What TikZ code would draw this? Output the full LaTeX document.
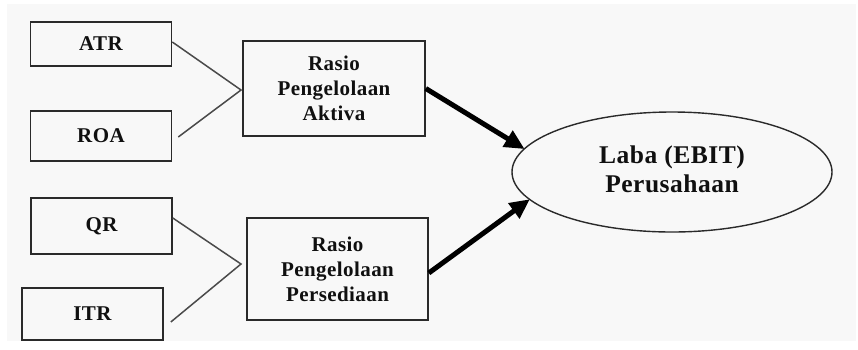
\documentclass[tikz,border=0pt]{standalone}
\usepackage{fontspec}
\setmainfont{Liberation Serif}
\usetikzlibrary{arrows.meta,calc,shapes.geometric}
\definecolor{bgc}{HTML}{F8F8F8}
\definecolor{bordc}{HTML}{2A2A2A}
\definecolor{linec}{HTML}{4A4A4A}
\definecolor{txtc}{HTML}{101010}
\begin{document}
\begin{tikzpicture}[x=1pt,y=-1pt,
  boxfont/.style={font=\fontsize{21}{25}\selectfont\bfseries\addfontfeature{LetterSpace=2}},
  inbox/.style={draw=bordc,line width=1.6pt,fill=bgc,minimum width=141pt,inner sep=0pt,
    text=txtc,boxfont},
  ratbox/.style={draw=bordc,line width=1.6pt,fill=bgc,inner sep=0pt,align=center,
    text=txtc,boxfont},
  conn/.style={draw=linec,line width=1.5pt},
  bigarrow/.style={draw=black,line width=5pt,-{Triangle[length=20pt,width=18pt]},shorten >=-1pt}
]
\useasboundingbox (0,0) rectangle (858,349);
\fill[white] (0,0) rectangle (858,349);
\fill[bgc] (7,4) rectangle (856,341);

\node[inbox,minimum height=44pt] (ATR) at (101,44) {ATR};
\node[inbox,minimum height=50pt] (ROA) at (101,136) {ROA};
\node[inbox,minimum height=56pt] (QR) at (101.5,226) {QR};
\node[inbox,minimum height=52pt] (ITR) at (92.5,314) {ITR};

\node[ratbox,minimum width=182pt,minimum height=95pt] (R1) at (334,88.5) {Rasio\\Pengelolaan\\Aktiva};
\node[ratbox,minimum width=181pt,minimum height=102pt] (R2) at (337.5,269) {Rasio\\Pengelolaan\\Persediaan};

\node[ellipse,draw=bordc,line width=1.4pt,fill=bgc,minimum width=320pt,minimum height=120pt,
  inner sep=0pt,align=center,text=txtc,
  font=\fontsize{25.5}{30}\selectfont\bfseries\addfontfeature{LetterSpace=2}] (E) at (672,172)
  {\raisebox{3pt}{\begin{tabular}{@{}c@{}}Laba (EBIT)\\[-1pt]Perusahaan\end{tabular}}};

\coordinate (j1) at (241,90);
\coordinate (j2) at (241,264);

\draw[conn] ($(ATR.east)+(0,-2)$) -- (j1) -- ($(ROA.east)+(6,1)$);
\draw[conn] ($(QR.east)+(0,-8)$) -- (j2) -- ($(ITR.east)+(7,8)$);

\draw[bigarrow] (R1.east) -- (E.171);
\draw[bigarrow] ($(R2.east)+(0,4)$) -- (E.191);
\end{tikzpicture}
\end{document}
